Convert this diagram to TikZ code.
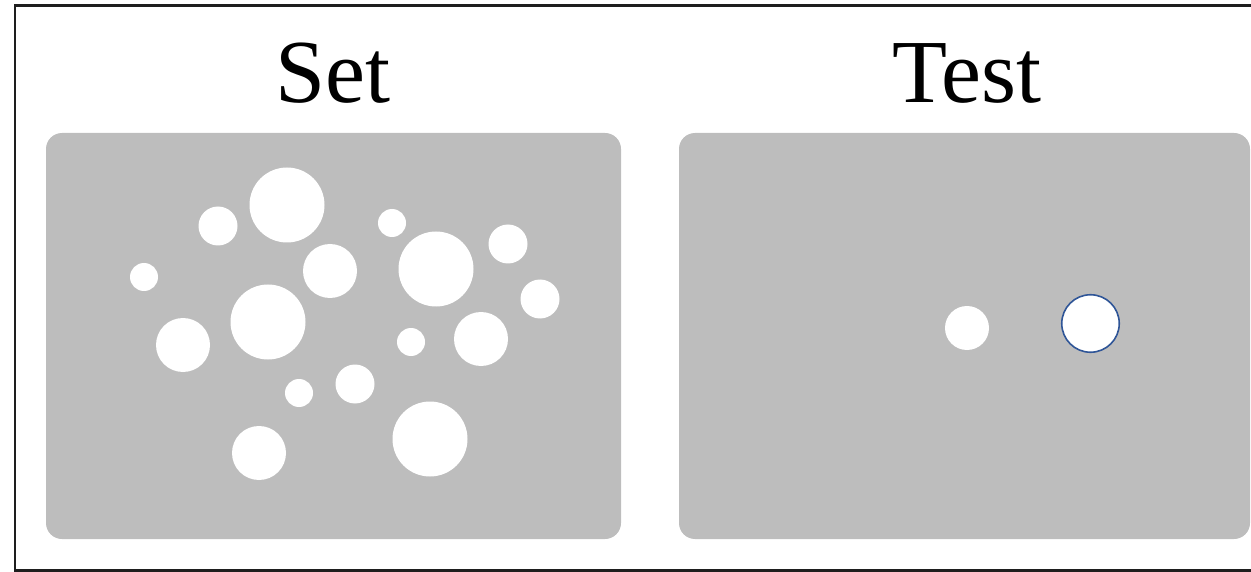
\documentclass[tikz,border=0pt]{standalone}
\usepackage{fontspec}
\setmainfont{Liberation Serif}
\definecolor{panelgray}{HTML}{BDBDBD}
\definecolor{ringblue}{HTML}{2F5597}
\definecolor{framegray}{HTML}{1E1E1E}
\begin{document}
\begin{tikzpicture}[x=1pt,y=-1pt,
  panel/.style={fill=panelgray, rounded corners=16pt, inner sep=0pt},
  title/.style={anchor=base, inner sep=0pt, font=\fontsize{90}{100}\selectfont},
  dotS/.style={circle, fill=white, inner sep=0pt, minimum size=28pt},
  dotM/.style={circle, fill=white, inner sep=0pt, minimum size=39pt},
  dotL/.style={circle, fill=white, inner sep=0pt, minimum size=54pt},
  dotXL/.style={circle, fill=white, inner sep=0pt, minimum size=75pt},
  dotT/.style={circle, fill=white, inner sep=0pt, minimum size=44pt},
  ring/.style={circle, fill=white, draw=ringblue, line width=1.6pt, inner sep=0pt, minimum size=57.5pt}]
\useasboundingbox (0,0) rectangle (1251,572);
\draw[framegray, line width=2.2pt] (1253,5.5) -- (15,5.5) -- (15,570.5) -- (1253,570.5);
% titles
\node[title] (settitle) at (333,103) {Set};
\node[title] (testtitle) at (967,103) {Test};
% panels
\node[panel, minimum width=575pt, minimum height=406pt] (setpanel) at (333.5,336) {};
\node[panel, minimum width=571pt, minimum height=406pt] (testpanel) at (964.5,336) {};
% set circles
\node[dotS] (s1) at (144,277) {};
\node[dotM] (s2) at (218,226) {};
\node[dotXL] (s3) at (287,205) {};
\node[dotL] (s4) at (330,271) {};
\node[dotXL] (s5) at (268,322) {};
\node[dotL] (s6) at (183,345) {};
\node[dotS] (s7) at (392,223) {};
\node[dotXL] (s8) at (436,269) {};
\node[dotM] (s9) at (508,244) {};
\node[dotM] (s10) at (540,299) {};
\node[dotS] (s11) at (411,342) {};
\node[dotL] (s12) at (481,339) {};
\node[dotS] (s13) at (299,393) {};
\node[dotM] (s14) at (355,384) {};
\node[dotL] (s15) at (259,453) {};
\node[dotXL] (s16) at (430,439) {};
% test circles
\node[dotT] (t1) at (967,328) {};
\node[ring] (t2) at (1090.5,323.5) {};
\end{tikzpicture}
\end{document}
